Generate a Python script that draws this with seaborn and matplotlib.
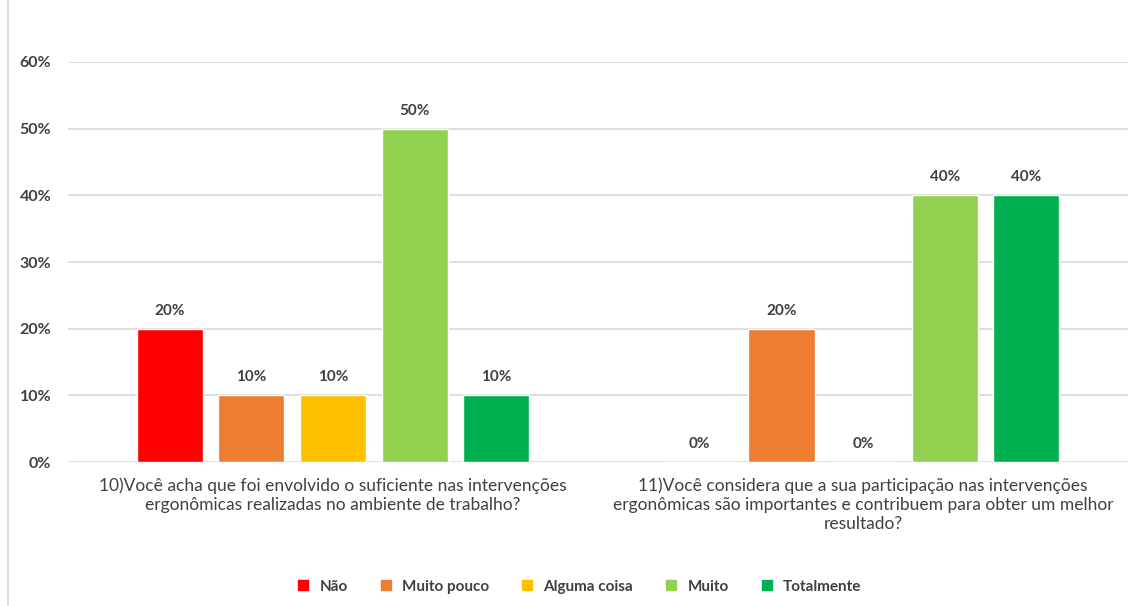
import matplotlib
matplotlib.use("Agg")
import matplotlib.pyplot as plt
import seaborn as sns
import pandas as pd
from matplotlib.ticker import PercentFormatter
from matplotlib.lines import Line2D

questions = [
    "10)Você acha que foi envolvido o suficiente nas intervenções\nergonômicas realizadas no ambiente de trabalho?",
    "11)Você considera que a sua participação nas intervenções\nergonômicas são importantes e contribuem para obter um melhor\nresultado?",
]
responses = ["Não", "Muito pouco", "Alguma coisa", "Muito", "Totalmente"]
q10_values = [0.20, 0.10, 0.10, 0.50, 0.10]
q11_values = [0.00, 0.20, 0.00, 0.40, 0.40]
colors = ["#FF0000", "#ED7D31", "#FFC000", "#92D050", "#00B050"]

rows = []
for q, vals in zip(questions, [q10_values, q11_values]):
    for r, v in zip(responses, vals):
        rows.append({"question": q, "response": r, "value": v})
df = pd.DataFrame(rows)

sns.set_theme(style="white")
plt.rcParams["font.family"] = ["Lato", "DejaVu Sans"]

fig = plt.figure(figsize=(11.38, 6.06), dpi=100)
ax = fig.add_axes([0.0598, 0.2376, 0.9315, 0.6601])

sns.barplot(data=df, x="question", y="value", hue="response",
            order=questions, hue_order=responses, palette=colors,
            width=0.77, gap=0.19, saturation=1, errorbar=None, ax=ax,
            legend=False)

ax.set_ylim(0, 0.6)
ax.set_xlim(-0.5, 1.5)
ax.set_yticks([0, 0.1, 0.2, 0.3, 0.4, 0.5, 0.6])
ax.yaxis.set_major_formatter(PercentFormatter(1.0, decimals=0))
ax.grid(axis="y", color="#D9D9D9", linewidth=1.2)
ax.set_axisbelow(True)
for s in ax.spines.values():
    s.set_visible(False)
ax.set_xlabel("")
ax.set_ylabel("")
ax.tick_params(axis="y", length=0, pad=12, labelsize=11.5, labelcolor="#404040")
ax.tick_params(axis="x", length=0, pad=11, labelsize=12.5, labelcolor="#404040")
for lbl in ax.get_yticklabels():
    lbl.set_fontweight("bold")
for lbl in ax.get_xticklabels():
    lbl.set_linespacing(1.25)

for cont in ax.containers:
    ax.bar_label(cont, labels=[f"{v*100:.0f}%" for v in cont.datavalues],
                 padding=8, fontsize=11, fontweight="bold", color="#404040")

handles = [Line2D([0], [0], marker="s", linestyle="none", markersize=6.5,
                  markerfacecolor=c, markeredgecolor=c) for c in colors]
leg = fig.legend(handles, responses, loc="center", ncol=5,
                 bbox_to_anchor=(0.505, 0.032), frameon=False,
                 handletextpad=0.05, columnspacing=1.5,
                 prop={"weight": "bold", "size": 11})
for t in leg.get_texts():
    t.set_color("#404040")

fig.add_artist(Line2D([8 / 1138, 8 / 1138], [0, 1], transform=fig.transFigure,
                      color="#D9D9D9", linewidth=1.2))

fig.savefig("out.png", dpi=100, facecolor="white")
